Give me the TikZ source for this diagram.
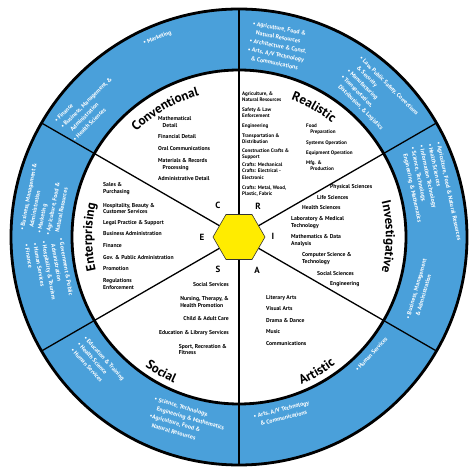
\documentclass[tikz,border=0pt]{standalone}
\usepackage{fontspec}
\setmainfont{PT Sans}
\usetikzlibrary{shapes.geometric,decorations.text}

\definecolor{ringblue}{RGB}{74,160,218}
\definecolor{hexyellow}{RGB}{255,236,0}

\newcommand{\itemfont}{\fontsize{5.7}{6.9}\selectfont\bfseries}
\newcommand{\realfont}{\fontsize{5.1}{6.3}\selectfont\bfseries}
\newcommand{\ringfont}{\fontsize{5.9}{8.8}\selectfont\bfseries}
\newcommand{\titlefont}{\fontsize{13}{13}\selectfont\bfseries\addfontfeature{LetterSpace=5}}
\newcommand{\cont}{\hspace*{0.8em}}

\begin{document}
\begin{tikzpicture}[
    x=1bp, y=1bp,
    hexagon/.style={regular polygon, regular polygon sides=6, minimum size=52bp,
      inner sep=0pt, fill=hexyellow, draw=black!80, line width=0.6bp},
    divider/.style={draw=black, line width=1.3bp},
    rim/.style={draw=black, line width=2.8bp},
    ringtext/.style={text=white, font=\ringfont, align=left, inner sep=0pt},
    item/.style={font=\itemfont, align=left, anchor=west, inner sep=0pt},
    ritem/.style={item, font=\realfont},
    sitem/.style={item, anchor=east},
    letter/.style={font=\fontsize{9}{9}\selectfont\bfseries, inner sep=0pt},
    title/.style={decorate, decoration={text along path, text align=center, text={|\titlefont|#1}}}
  ]
  \useasboundingbox (-239,-239) rectangle (235,237);

  % wheel
  \fill[ringblue] (0,0) circle[radius=228];
  \fill[white] (0,0) circle[radius=167];
  \node[hexagon] (hex) at (0,0) {};
  \foreach \a in {90,30,-30,-90,-150,150} {
    \coordinate (rim\a) at (\a:228);
    \draw[divider] (hex) -- (rim\a);
  }
  \draw[rim] (0,0) circle[radius=167];
  \draw[rim] (0,0) circle[radius=228];

  % letters
  \node[letter] (lC) at (-21,32) {C};
  \node[letter] (lR) at (19,31) {R};
  \node[letter] (lI) at (34,1) {I};
  \node[letter] (lE) at (-37,0) {E};
  \node[letter] (lS) at (-21,-32) {S};
  \node[letter] (lA) at (18,-33) {A};

  % titles
  \path[title=Conventional] (150:147) arc[start angle=150, end angle=90, radius=147];
  \path[title=Realistic] (90:147) arc[start angle=90, end angle=30, radius=147];
  \path[title=Investigative] (30:147) arc[start angle=30, end angle=-30, radius=147];
  \path[title=Enterprising] (210:147) arc[start angle=210, end angle=150, radius=147];
  \path[title=Social] (210:160) arc[start angle=210, end angle=270, radius=160];
  \path[title=Artistic] (270:160) arc[start angle=270, end angle=330, radius=160];

  % conventional
  \node[item] (mathDetail) at (-81,115) {Mathematical\\\cont Detail};
  \node[item] (finDetail) at (-81,100) {Financial Detail};
  \node[item] (oralComm) at (-81,88) {Oral Communications};
  \node[item] (materials) at (-81,72) {Materials \& Records\\\cont Processing};
  \node[item] (adminDetail) at (-81,58) {Administrative Detail};

  % realistic
  \node[ritem] (agriNat) at (3,140) {Agriculture, \&\\ Natural Resources};
  \node[ritem] (safety) at (3,124) {Safety \& Law\\ Enforcement};
  \node[ritem] (engReal) at (3,111) {Engineering};
  \node[ritem] (transport) at (3,98) {Transportation \&\\ Distribution};
  \node[ritem] (construction) at (3,83) {Construction Crafts \&\\ Support};
  \node[ritem] (craftsMech) at (3,66) {Crafts: Mechanical\\Crafts: Electrical -\\ Electronic};
  \node[ritem] (craftsMetal) at (3,46) {Crafts: Metal, Wood,\\ Plastic, Fabric};
  \node[ritem] (food) at (67,108) {Food\\\cont Preparation};
  \node[ritem] (systems) at (67,94) {Systems Operation};
  \node[ritem] (equipment) at (67,84) {Equipment Operation};
  \node[ritem] (mfg) at (67,71) {Mfg. \&\\\cont Production};

  % investigative
  \node[item] (physical) at (91,50) {Physical Sciences};
  \node[item] (life) at (78,39) {Life Sciences};
  \node[item] (health) at (63,29) {Health Sciences};
  \node[item] (lab) at (52,14.5) {Laboratory \& Medical\\ Technology};
  \node[item] (maths) at (52,-3.5) {Mathematics \& Data\\ Analysis};
  \node[item] (computer) at (63,-22) {Computer Science \&\\ Technology};
  \node[item] (socialSci) at (78,-37) {Social Sciences};
  \node[item] (engInv) at (91,-47) {Engineering};

  % artistic
  \node[item] (literary) at (27,-61) {Literary Arts};
  \node[item] (visual) at (27,-72) {Visual Arts};
  \node[item] (drama) at (27,-84) {Drama \& Dance};
  \node[item] (music) at (27,-95) {Music};
  \node[item] (comm) at (27,-107) {Communications};

  % social
  \node[sitem] (socServ) at (-10,-48) {Social Services};
  \node[sitem] (nursing) at (-10,-65) {Nursing, Therapy, \&\\ Health Promotion};
  \node[sitem] (childCare) at (-10,-82) {Child \& Adult Care};
  \node[sitem] (education) at (-10,-96) {Education \& Library Services};
  \node[sitem] (sport) at (-12,-112.5) {Sport, Recreation \&\\ Fitness};

  % enterprising
  \node[item] (sales) at (-136,48) {Sales \&\\ Purchasing};
  \node[item] (hospitality) at (-136,28.5) {Hospitality, Beauty \&\\ Customer Services};
  \node[item] (legal) at (-136,14) {Legal Practice \& Support};
  \node[item] (busAdmin) at (-136,3) {Business Administration};
  \node[item] (finance) at (-136,-9) {Finance};
  \node[item] (gov) at (-136,-21) {Gov. \& Public Administration};
  \node[item] (promotion) at (-136,-32) {Promotion};
  \node[item] (regulations) at (-136,-47) {Regulations\\ Enforcement};

  % career clusters in the ring
  \node[ringtext, rotate=22] (convMarketing) at (112.3:215) {• Marketing};
  \node[ringtext, rotate=45] (convFinance) at (138.8:199)
    {• Finance\\• Business, Management, \&\\\cont Administration\\• Health Sciences};
  \node[ringtext, rotate=-11] (realAgri) at (78.4:195)
    {• Agriculture, Food \&\\\cont Natural Resources\\• Architecture \& Const.\\• Arts, A/V Technology\\\cont\& Communications};
  \node[ringtext, rotate=-45] (realLaw) at (45.2:195)
    {• Law, Public Safety, Corrections\\\cont\& Security\\• Manufacturing\\• Transportation,\\\cont Distribution, \& Logistics};
  \node[ringtext, rotate=-78] (invAgri) at (12.4:197)
    {• Agriculture, Food \& Natural Resources\\• Health Sciences\\• Information Technology\\• Science, Technology,\\\cont Engineering \& Mathematics};
  \node[ringtext, rotate=74] (invBusiness) at (-16.3:189)
    {• Business, Management\\\cont\& Administration};
  \node[ringtext, rotate=47] (artHuman) at (-41.6:177) {• Human Services};
  \node[ringtext, rotate=14] (artArts) at (-76.2:182)
    {• Arts, A/V Technology\\\cont\& Communications};
  \node[ringtext, rotate=-48] (socEducation) at (222:190)
    {• Education \& Training\\• Health Science\\• Human Services};
  \node[ringtext, rotate=-16] (socScience) at (254.3:192)
    {• Science, Technology,\\\cont Engineering \& Mathematics\\•Agriculture, Food \&\\\cont Natural Resources};
  \node[ringtext, rotate=79] (entBusiness) at (169.2:197)
    {• Business, Management \&\\\cont Administration\\• Marketing\\• Agriculture, Food \&\\\cont Natural Resources};
  \node[ringtext, rotate=-80] (entGov) at (190:193)
    {• Government \& Public\\\cont Administration\\• Hospitality \& Tourism\\• Human Services\\• Finance};
\end{tikzpicture}
\end{document}
